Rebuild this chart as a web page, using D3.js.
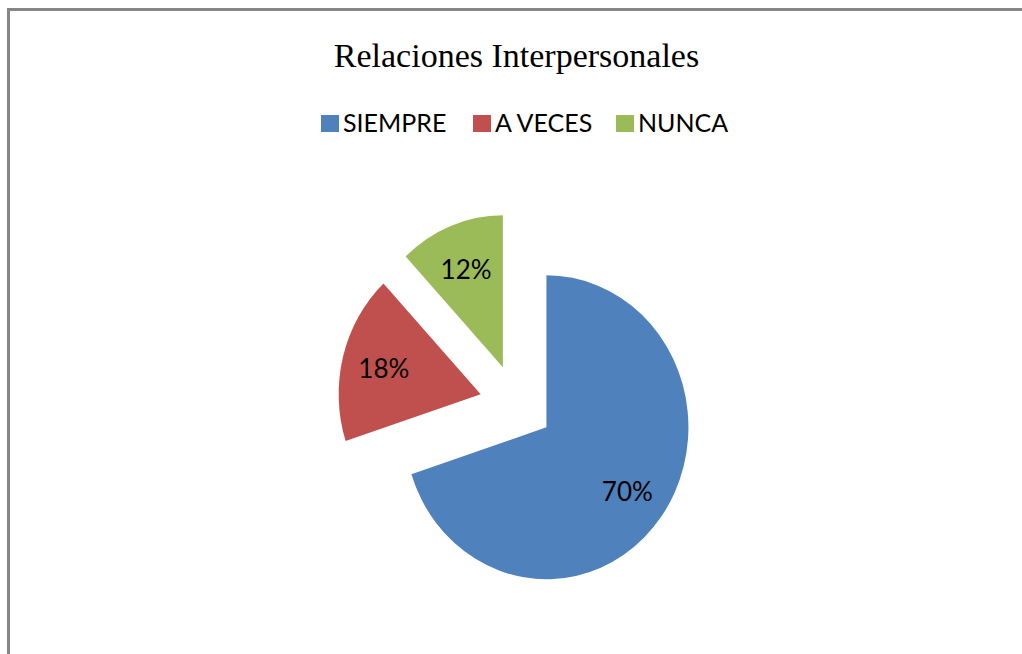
<html>
<script src="https://d3js.org/d3.v7.min.js"></script>
<body style="margin:0; background:#fff; overflow:hidden;">
<svg width="1022" height="654" style="display:block;"></svg>
<script>
// ---------------- data ----------------
const categories = ["SIEMPRE", "A VECES", "NUNCA"];
const values = [70, 18, 12];
const labels = ["70%", "18%", "12%"];
const colors = ["#4F81BD", "#C0504D", "#9BBB59"];

const svg = d3.select("svg");
const cx = 516.5, cy = 404;
const radius = 142, yStretch = 1.07, explode = 37, labelR = 100;

// frame: only the top and left edges are inside the picture
svg.append("path")
  .attr("d", "M8.5,654 V9.5 H1022")
  .attr("fill", "none")
  .attr("stroke", "#868686")
  .attr("stroke-width", 3);

// title
svg.append("text")
  .attr("x", cx).attr("y", 67)
  .attr("text-anchor", "middle")
  .style("font-family", "'Liberation Serif', serif")
  .style("font-size", "34px")
  .style("fill", "#000")
  .text("Relaciones Interpersonales");

// legend
const legendX = [321, 473, 616];
const legend = svg.append("g");
categories.forEach(function(c, i) {
  legend.append("rect")
    .attr("x", legendX[i]).attr("y", 115)
    .attr("width", 18).attr("height", 17)
    .attr("fill", colors[i]);
  legend.append("text")
    .attr("x", legendX[i] + 22).attr("y", 132)
    .style("font-family", "Lato, sans-serif")
    .style("font-size", "25px")
    .style("fill", "#000")
    .text(c);
});

// pie
const pie = d3.pie().sort(null).value(d => d);
const arcs = pie(values);
const arc = d3.arc().innerRadius(0).outerRadius(radius);

const g = svg.append("g")
  .attr("transform", "translate(" + cx + "," + cy + ") scale(1," + yStretch + ")");

g.selectAll("path")
  .data(arcs)
  .enter()
  .append("path")
  .attr("d", arc)
  .attr("fill", (d, i) => colors[i])
  .attr("transform", function(d) {
    const a = (d.startAngle + d.endAngle) / 2;
    return "translate(" + (Math.sin(a) * explode) + "," + (-Math.cos(a) * explode) + ")";
  });

// labels (placed without stretching the glyphs)
svg.append("g")
  .selectAll("text")
  .data(arcs)
  .enter()
  .append("text")
  .attr("x", function(d) {
    const a = (d.startAngle + d.endAngle) / 2;
    return cx + Math.sin(a) * (explode + labelR);
  })
  .attr("y", function(d) {
    const a = (d.startAngle + d.endAngle) / 2;
    return cy - Math.cos(a) * (explode + labelR) * yStretch;
  })
  .attr("dy", "0.42em")
  .attr("text-anchor", "middle")
  .style("font-family", "Lato, sans-serif")
  .style("font-size", "26px")
  .style("fill", "#000")
  .text((d, i) => labels[i]);
</script>
</body>
</html>
